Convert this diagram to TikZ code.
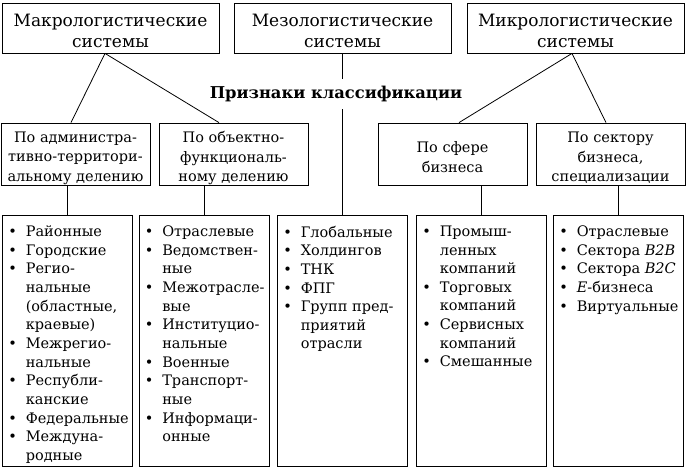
\documentclass[tikz,border=0pt]{standalone}
\usepackage{fontspec}
\setmainfont{DejaVu Serif}
\newcommand\bl{\makebox[17.5pt][l]{\textbullet}}
\newcommand\ind{\hspace*{17.5pt}}
\begin{document}
\begin{tikzpicture}[x=1pt,y=-1pt,
 box/.style={draw, line width=0.8pt, inner sep=0pt},
 topbox/.style={box, minimum width=217pt, minimum height=50pt},
 toptext/.style={inner sep=0pt, font=\fontsize{17}{21}\selectfont, align=center},
 midbox/.style={box, minimum width=149pt, minimum height=62pt},
 midtext/.style={inner sep=0pt, font=\fontsize{14.5}{19.5}\selectfont, align=center},
 botbox/.style={box, minimum width=130pt, minimum height=251pt},
 lst/.style={anchor=north west, inner sep=0pt, align=left, font=\fontsize{14.5}{18.65}\selectfont},
 ln/.style={line width=0.8pt}]
\useasboundingbox (0,0) rectangle (686,467);
\node[topbox] (macro) at (110.5,28) {};
\node[topbox] (meso) at (342.5,28) {};
\node[topbox] (micro) at (575.5,28) {};
\node[toptext] (macrot) at (110.5,31) {Макрологистические\\системы};
\node[toptext] (mesot) at (342.5,31) {Мезологистические\\системы};
\node[toptext] (microt) at (575.5,31) {Микрологистические\\системы};
\node[midbox] (adm) at (75.5,154) {};
\node[midbox] (obj) at (233.5,154) {};
\node[midbox] (sph) at (452.5,154) {};
\node[midbox] (sec) at (610.5,154) {};
\node[midtext] (admt) at (75.5,158) {По администра-\\тивно-территори-\\альному делению};
\node[midtext] (objt) at (233.5,158) {По объектно-\\функциональ-\\ному делению};
\node[midtext] (spht) at (452.5,157) {По сфере\\бизнеса};
\node[midtext] (sect) at (610.5,158) {По сектору\\бизнеса,\\специализации};
\node[botbox] (b1) at (67.5,340.5) {};
\node[botbox] (b2) at (204,340.5) {};
\node[botbox] (b3) at (342.5,340.5) {};
\node[botbox] (b4) at (481.5,340.5) {};
\node[botbox] (b5) at (618.5,340.5) {};
\node[lst] (l1) at ([xshift=6pt,yshift=-11pt]b1.north west) {\bl Районные\\\bl Городские\\\bl Регио-\\\ind нальные\\\ind (областные,\\\ind краевые)\\\bl Межрегио-\\\ind нальные\\\bl Республи-\\\ind канские\\\bl Федеральные\\\bl Междуна-\\\ind родные};
\node[lst] (l2) at ([xshift=6pt,yshift=-11pt]b2.north west) {\bl Отраслевые\\\bl Ведомствен-\\\ind ные\\\bl Межотрасле-\\\ind вые\\\bl Институцио-\\\ind нальные\\\bl Военные\\\bl Транспорт-\\\ind ные\\\bl Информаци-\\\ind онные};
\node[lst] (l3) at ([xshift=6pt,yshift=-11pt]b3.north west) {\bl Глобальные\\\bl Холдингов\\\bl ТНК\\\bl ФПГ\\\bl Групп пред-\\\ind приятий\\\ind отрасли};
\node[lst] (l4) at ([xshift=6pt,yshift=-11pt]b4.north west) {\bl Промыш-\\\ind ленных\\\ind компаний\\\bl Торговых\\\ind компаний\\\bl Сервисных\\\ind компаний\\\bl Смешанные};
\node[lst] (l5) at ([xshift=6pt,yshift=-11pt]b5.north west) {\bl Отраслевые\\\bl Сектора \textit{B2B}\\\bl Сектора \textit{B2C}\\\bl \textit{E}-бизнеса\\\bl Виртуальные};
\draw[ln] ([xshift=-5.5pt]macro.south) -- ([xshift=-4.5pt]adm.north);
\draw[ln] ([xshift=-5.5pt]macro.south) -- ([xshift=-14.5pt]obj.north);
\draw[ln] ([xshift=-3.5pt]micro.south) -- ([xshift=6.5pt]sph.north);
\draw[ln] ([xshift=-3.5pt]micro.south) -- ([xshift=-4.5pt]sec.north);
\draw[ln] (meso.south) -- (b3.north);
\draw[ln] (adm.south -| b1.north) -- (b1.north);
\draw[ln] (obj.south -| b2.north) -- (b2.north);
\draw[ln] (sph.south -| b4.north) -- (b4.north);
\draw[ln] (sec.south -| b5.north) -- (b5.north);
\node[font=\fontsize{16.3}{20}\selectfont\bfseries, inner xsep=2pt, inner ysep=0pt, minimum height=30pt, fill=white] (title) at (336,93.5) {Признаки классификации};
\end{tikzpicture}
\end{document}
